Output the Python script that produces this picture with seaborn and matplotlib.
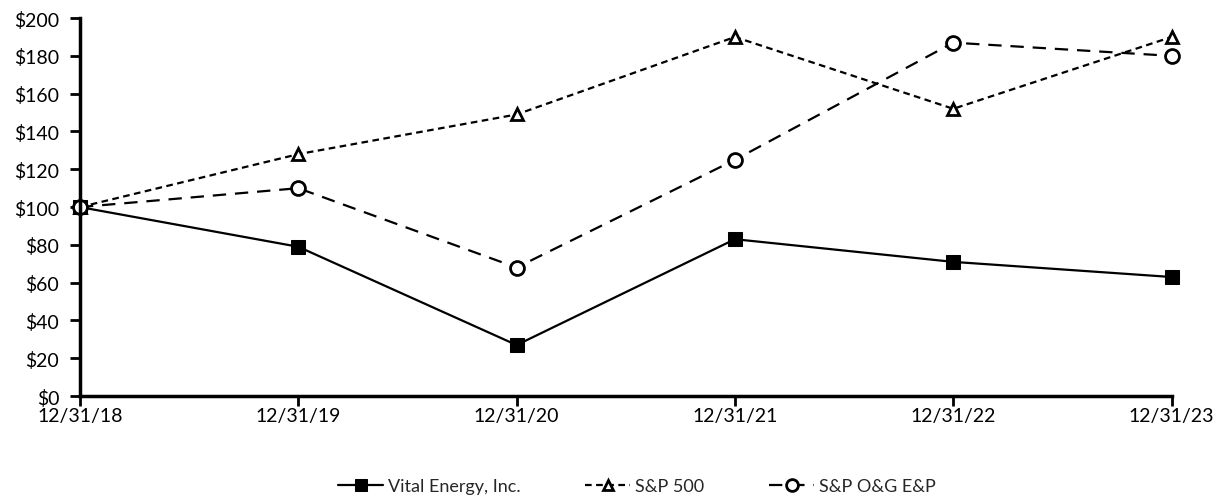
import matplotlib
matplotlib.use("Agg")
import matplotlib.pyplot as plt
import seaborn as sns
import pandas as pd

dates = ["12/31/18", "12/31/19", "12/31/20", "12/31/21", "12/31/22", "12/31/23"]
vital = [100, 79, 27, 83, 71, 63]
sp500 = [100, 128, 149, 190, 152, 190]
oge = [100, 110, 68, 125, 187, 180]
y_ticks = list(range(0, 201, 20))

sns.set_theme(style="white")
plt.rcParams['font.family'] = ['Lato', 'DejaVu Sans']

fig = plt.figure(figsize=(12.17, 5.02), dpi=100)
ax = fig.add_axes([0.0657, 0.209, 0.897, 0.753])

idx = list(range(len(dates)))
df = pd.DataFrame({"x": idx, "vital": vital, "sp": sp500, "oge": oge})

sns.lineplot(data=df, x="x", y="vital", ax=ax, color="black", lw=1.6,
             marker="s", markersize=9.5, markerfacecolor="black", markeredgecolor="black",
             label="Vital Energy, Inc.")
sns.lineplot(data=df, x="x", y="sp", ax=ax, color="black", lw=1.6, dashes=False,
             marker="^", markersize=8, markerfacecolor="white", markeredgecolor="black",
             markeredgewidth=2, label="S&P 500")
sns.lineplot(data=df, x="x", y="oge", ax=ax, color="black", lw=1.6, dashes=False,
             marker="o", markersize=10, markerfacecolor="white", markeredgecolor="black",
             markeredgewidth=2, label="S&P O&G E&P")
lines = ax.get_lines()
lines[1].set_dashes([3, 2])
lines[2].set_dashes([6, 4])

ax.set_xlim(0, len(dates) - 1)
ax.set_ylim(0, 200)
ax.set_xticks(idx)
ax.set_xticklabels(dates)
ax.set_yticks(y_ticks)
ax.set_yticklabels([f"${v}" for v in y_ticks])
ax.set_xlabel("")
ax.set_ylabel("")
for s in ["top", "right"]:
    ax.spines[s].set_visible(False)
for s in ["left", "bottom"]:
    ax.spines[s].set_linewidth(2.5)
    ax.spines[s].set_color("black")
ax.tick_params(axis="both", direction="out", length=7, width=2, color="black",
               labelsize=14, labelcolor="black", left=True, bottom=True)
ax.tick_params(axis="y", pad=8)
ax.tick_params(axis="x", pad=1)
for l in lines:
    l.set_clip_on(False)

handles, labels = ax.get_legend_handles_labels()
ax.legend(handles, labels, loc="center", bbox_to_anchor=(0.51, -0.238), ncol=3,
          frameon=False, fontsize=13, handlelength=2.5, handletextpad=0.25,
          columnspacing=3.6, markerscale=0.85)

fig.savefig("out.png", dpi=100)
